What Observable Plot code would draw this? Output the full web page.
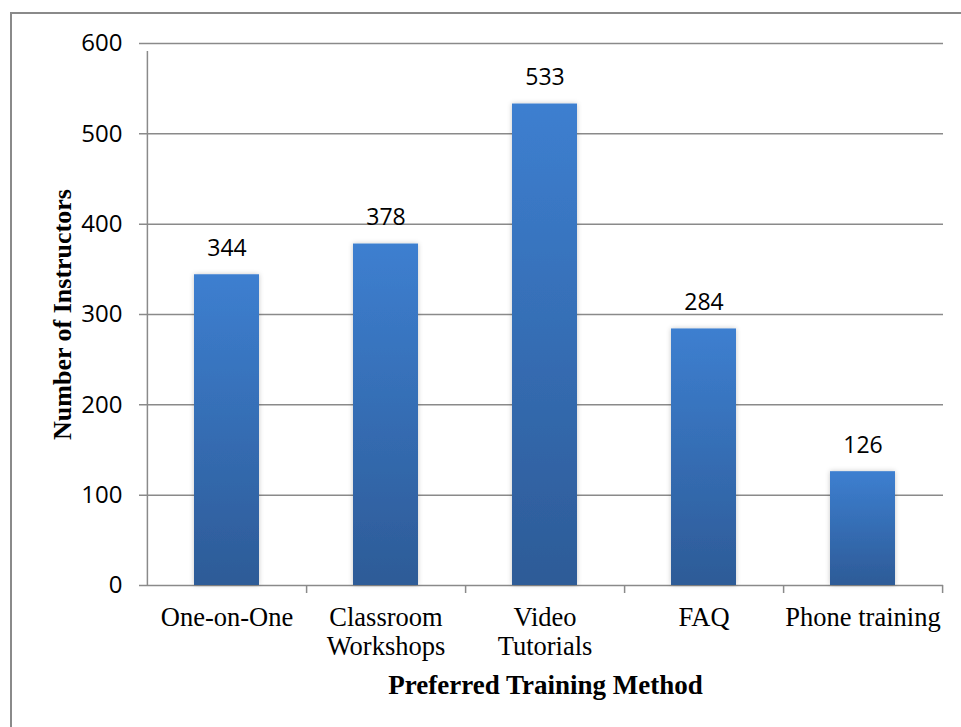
<!DOCTYPE html>
<html>
<head>
<meta charset="utf-8">
<script src="https://cdn.jsdelivr.net/npm/d3@7"></script>
<script src="https://cdn.jsdelivr.net/npm/@observablehq/plot@0.6"></script>
<style>
  html, body { margin: 0; padding: 0; background: #fff; }
  #wrap { position: relative; width: 961px; height: 727px; overflow: hidden; }
  #frame { position: absolute; left: 10px; top: 12px; width: 2000px; height: 2000px;
           border-top: 2px solid #8a8a8a; border-left: 2px solid #8a8a8a; box-sizing: border-box; }
  #chart { position: absolute; left: 0; top: 0; }
</style>
</head>
<body>
<div id="wrap"><div id="frame"></div><div id="chart"></div></div>
<script>
const categories = ["One-on-One", "Classroom Workshops", "Video Tutorials", "FAQ", "Phone training"];
const categoryLabels = ["One-on-One", "Classroom\nWorkshops", "Video\nTutorials", "FAQ", "Phone training"];
const values = [344, 378, 533, 284, 126];
const yTicks = [0, 100, 200, 300, 400, 500, 600];

const data = categories.map((c, i) => ({category: c, value: values[i], label: categoryLabels[i]}));

const W = 961, H = 727;
const mL = 147, mR = 18, mT = 43, mB = 142;
const step = (W - mL - mR) / categories.length;

const defs = () => {
  const ns = "http://www.w3.org/2000/svg";
  const d = document.createElementNS(ns, "defs");
  d.innerHTML = `
    <linearGradient id="barGrad" x1="0" y1="0" x2="0" y2="1">
      <stop offset="0" stop-color="#3d7fd0"/>
      <stop offset="1" stop-color="#2d5b97"/>
    </linearGradient>
    <filter id="shadow" x="-20%" y="-5%" width="140%" height="110%">
      <feDropShadow dx="0" dy="0" stdDeviation="2.5" flood-color="#000" flood-opacity="0.22"/>
    </filter>`;
  return d;
};

const grid = "#8a8a8a";
const serif = "'Liberation Serif', 'Times New Roman', serif";
const sans = "'Open Sans', 'Noto Sans', sans-serif";

const chart = Plot.plot({
  width: W,
  height: H,
  marginLeft: mL,
  marginRight: mR,
  marginTop: mT,
  marginBottom: mB,
  style: {background: "transparent", overflow: "visible"},
  x: {domain: categories, paddingInner: 0.59, paddingOuter: 0.295, label: null},
  y: {domain: [0, 600], label: null},
  marks: [
    defs,
    Plot.ruleY(yTicks, {stroke: grid, strokeWidth: 1.5, insetLeft: -8}),
    Plot.ruleX([0], {x: () => categories[0], y1: 0, y2: 600, dx: -step / 2, stroke: grid, strokeWidth: 1.5, insetBottom: -8}),
    Plot.ruleX(categories, {x: d => d, y1: 0, y2: 0, dx: step / 2, stroke: grid, strokeWidth: 1.5, insetBottom: -8}),
    Plot.barY(data, {x: "category", y: "value", fill: "url(#barGrad)"}),
    Plot.text(data, {x: "category", y: "value", text: d => String(d.value), dy: -19, lineAnchor: "bottom",
      fontSize: 23, fontFamily: sans, fill: "#000"}),
    Plot.axisY(yTicks, {tickSize: 0, tickPadding: 25, fontSize: 24, fontFamily: sans, fill: "#000", label: null}),
    Plot.axisX({tickSize: 0, tickPadding: 20, fontSize: 26.5, fontFamily: serif, fill: "#000", lineHeight: 1.1,
      tickFormat: c => categoryLabels[categories.indexOf(c)], label: null}),
    Plot.text(["Preferred Training Method"], {frameAnchor: "bottom", dy: 100, lineAnchor: "middle",
      fontSize: 27, fontWeight: "bold", fontFamily: serif, fill: "#000"}),
    Plot.text(["Number of Instructors"], {frameAnchor: "left", dx: -85, rotate: -90, textAnchor: "middle", lineAnchor: "middle",
      fontSize: 26, fontWeight: "bold", fontFamily: serif, fill: "#000"})
  ]
});
chart.querySelectorAll("rect").forEach(r => r.setAttribute("filter", "url(#shadow)"));
document.getElementById("chart").appendChild(chart);
</script>
</body>
</html>
